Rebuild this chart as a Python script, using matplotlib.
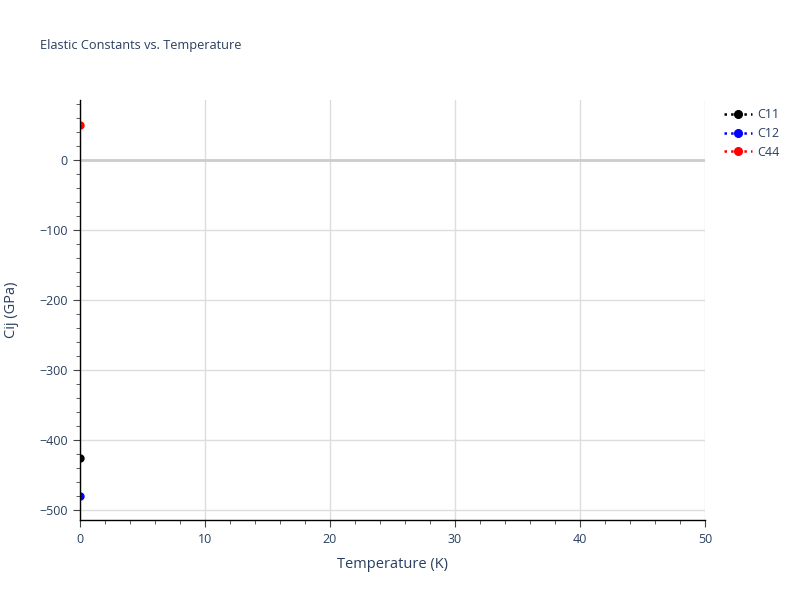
import matplotlib
matplotlib.use("Agg")
import matplotlib.pyplot as plt
from matplotlib.ticker import MultipleLocator
from matplotlib.lines import Line2D

# data (one point per series at T = 0 K)
temps = [0]
c11 = [-426]
c12 = [-479]
c44 = [51]
names = ["C11", "C12", "C44"]
colors = ["black", "blue", "red"]

txt = "#2a3f5f"
plt.rcParams["font.family"] = ["Open Sans", "DejaVu Sans"]

fig = plt.figure(figsize=(8, 6), dpi=100)
ax = fig.add_axes([0.1, 0.1333, 0.78125, 0.7])

# markers sit on the y axis and get half clipped, like in the original
for vals, name, col in zip([c11, c12, c44], names, colors):
    ax.plot(temps, vals, linestyle=":", marker="o", color=col, markersize=5,
            linewidth=1.5, label=name, clip_on=True, zorder=2)

ax.set_xlim(0, 50)
ax.set_ylim(-514, 86)
ax.xaxis.set_major_locator(MultipleLocator(10))
ax.xaxis.set_minor_locator(MultipleLocator(2))
ax.yaxis.set_major_locator(MultipleLocator(100))
ax.yaxis.set_minor_locator(MultipleLocator(20))

ax.grid(True, which="major", color="#dddddd", linewidth=1)
ax.axhline(0, color="#cccccc", linewidth=2, zorder=1)
ax.set_axisbelow(True)

for s in ["top", "right"]:
    ax.spines[s].set_visible(False)
for s in ["left", "bottom"]:
    ax.spines[s].set_color("black")
    ax.spines[s].set_linewidth(1)
    ax.spines[s].set_zorder(3)

ax.tick_params(which="major", direction="out", length=5, color="#444444",
               labelsize=9, labelcolor=txt, pad=4)
ax.tick_params(which="minor", direction="out", length=3, color="#444444")

ax.set_yticks(ax.get_yticks())
ax.set_yticklabels([f"{int(v)}".replace("-", "\u2212") for v in ax.get_yticks()])
ax.set_ylim(-514, 86)

ax.set_xlabel("Temperature (K)", fontsize=10.5, color=txt, labelpad=8)
ax.set_ylabel("Cij (GPa)", fontsize=10.5, color=txt, labelpad=14)
fig.text(0.05, 0.925, "Elastic Constants vs. Temperature", fontsize=9.2,
         color=txt, va="center", ha="left")

handles = [Line2D([0], [0], linestyle=":", marker="o", color=c, markersize=5.5,
                  linewidth=1.8) for c in colors]
fig.legend(handles, names, loc="upper left", bbox_to_anchor=(0.891, 0.838),
           frameon=False, fontsize=9, labelcolor=txt, handlelength=2.2,
           handletextpad=0.45, labelspacing=0.45)

fig.savefig("out.png", dpi=100)
